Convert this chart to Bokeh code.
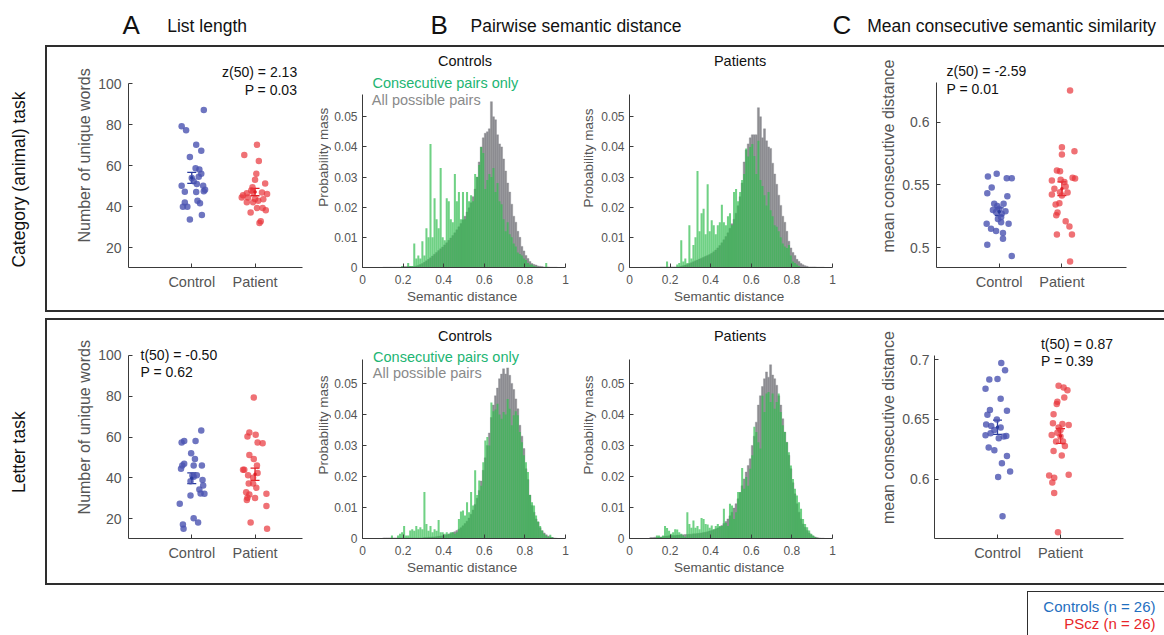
import math
from bokeh.plotting import figure
from bokeh.layouts import row, column
from bokeh.models import (Range1d, FixedTicker, Label, Whisker, ColumnDataSource,
                          TeeHead, CustomJSTickFormatter, Spacer)
from bokeh.embed import file_html
from bokeh.resources import INLINE
from bokeh.core.properties import value

FONT = "Liberation Sans"

# ---------------- data ----------------
groups = ["Control", "Patient"]
group_pos = [1, 2]

# Panel A, category task (list length)
A1_ctrl_y = [87.1, 79.2, 77.2, 70.2, 67.3, 64.2, 58.2, 56.1, 51.1, 50.3, 50.3, 47.6, 47.4,
             47.2, 48.3, 43.0, 42.1, 41.7, 40.0, 40.0, 36.0, 33.9, 58.8, 54.0, 52.5, 54.6]
A1_ctrl_x = [1.19, 0.84, 0.91, 1.07, 1.15, 0.97, 1.12, 1.15, 1.08, 0.84, 1.18, 1.19, 0.89,
             1.07, 1.21, 1.09, 0.89, 1.13, 0.86, 0.93, 1.16, 0.97, 1.06, 1.00, 1.03, 1.11]
A1_pat_y = [70.2, 65.2, 62.3, 56.1, 51.3, 53.2, 47.9, 46.6, 45.6, 47.2, 47.0, 46.3, 42.2,
            42.2, 44.6, 43.0, 43.8, 39.4, 39.4, 38.3, 37.2, 33.0, 32.2, 44.6, 49.5, 43.7]
A1_pat_x = [2.03, 1.83, 2.06, 2.02, 2.16, 2.00, 1.94, 1.87, 1.81, 1.97, 2.11, 2.19, 1.87,
            1.97, 1.89, 2.05, 2.00, 2.12, 2.03, 2.17, 1.93, 2.09, 2.07, 1.79, 1.96, 2.13]
A1_mean = [54.1, 47.2]
A1_sem = [2.7, 1.8]

# Panel A, letter task
A2_ctrl_y = [63.2, 57.3, 58.1, 58.1, 52.1, 49.2, 46.9, 46.0, 44.4, 46.1, 46.1, 41.3, 40.5,
             39.0, 38.3, 36.2, 34.3, 32.3, 32.2, 31.4, 27.3, 20.2, 17.2, 18.1, 15.1, 41.1]
A2_ctrl_x = [1.15, 0.84, 0.88, 1.06, 0.99, 1.05, 0.88, 0.85, 0.83, 1.03, 1.16, 1.08, 1.03,
             1.17, 0.98, 1.18, 1.12, 1.14, 1.20, 0.98, 0.81, 1.03, 0.86, 1.10, 0.87, 1.01]
A2_pat_y = [79.3, 62.2, 60.3, 61.1, 57.3, 57.0, 51.2, 49.2, 46.1, 44.0, 44.0, 42.4, 41.3,
            40.0, 37.2, 35.1, 33.0, 31.9, 32.2, 30.2, 30.1, 29.1, 26.2, 18.1, 15.1, 37.2]
A2_pat_x = [1.98, 1.91, 1.88, 2.01, 2.04, 2.12, 1.91, 1.98, 2.03, 1.81, 1.83, 2.04, 1.89,
            1.97, 1.90, 2.02, 1.86, 1.91, 2.18, 1.88, 2.00, 1.87, 2.18, 1.93, 2.19, 1.97]
A2_mean = [39.8, 41.8]
A2_sem = [2.6, 3.0]

# Panel C, category task
C1_ctrl_y = [0.5568, 0.5589, 0.5554, 0.5554, 0.5480, 0.5435, 0.5411, 0.5350, 0.5350, 0.5332,
             0.5284, 0.5290, 0.5244, 0.5191, 0.5204, 0.5191, 0.5151, 0.5133, 0.5117, 0.5072,
             0.5024, 0.4934, 0.5310, 0.5300, 0.5270, 0.5230]
C1_ctrl_x = [0.82, 0.96, 1.12, 1.20, 0.88, 0.81, 1.13, 0.92, 1.07, 0.97, 0.95, 1.10, 1.03,
             0.80, 1.03, 1.15, 0.87, 0.95, 1.06, 1.06, 0.81, 1.20, 1.00, 0.90, 1.04, 0.98]
C1_pat_y = [0.6252, 0.5801, 0.5769, 0.5743, 0.5615, 0.5610, 0.5536, 0.5557, 0.5541, 0.5488,
            0.5424, 0.5440, 0.5443, 0.5355, 0.5345, 0.5281, 0.5260, 0.5212, 0.5170, 0.5106,
            0.5106, 0.4891, 0.5416, 0.5552, 0.5523, 0.5470]
C1_pat_x = [2.13, 2.00, 2.20, 2.00, 1.92, 1.97, 1.84, 2.17, 1.98, 2.06, 1.84, 2.09, 1.97,
            1.96, 1.90, 1.93, 1.91, 2.06, 2.12, 1.92, 2.16, 2.13, 2.00, 2.21, 2.04, 1.88]
C1_mean = [0.5287, 0.5470]
C1_sem = [0.0030, 0.0054]

# Panel C, letter task
C2_ctrl_y = [0.6972, 0.6911, 0.6833, 0.6839, 0.6756, 0.6672, 0.6578, 0.6572, 0.6539, 0.6500,
             0.6458, 0.6444, 0.6431, 0.6367, 0.6383, 0.6342, 0.6361, 0.6264, 0.6242, 0.6194,
             0.6133, 0.6064, 0.6017, 0.5689, 0.6411, 0.6356]
C2_ctrl_x = [1.06, 1.12, 0.87, 1.00, 0.81, 1.05, 0.88, 1.15, 0.84, 0.99, 0.82, 0.90, 1.05,
             0.81, 0.89, 1.02, 1.14, 0.86, 0.95, 1.15, 1.07, 1.20, 1.01, 1.08, 0.95, 1.10]
C2_pat_y = [0.6781, 0.6767, 0.6744, 0.6683, 0.6647, 0.6628, 0.6542, 0.6467, 0.6461, 0.6453,
            0.6433, 0.6389, 0.6369, 0.6356, 0.6278, 0.6236, 0.6197, 0.6031, 0.6011, 0.6036,
            0.5972, 0.5883, 0.5556, 0.6411, 0.6314, 0.6314]
C2_pat_x = [1.97, 2.05, 2.11, 2.06, 1.95, 1.94, 1.89, 1.88, 2.03, 2.13, 1.97, 1.95, 1.86,
            2.00, 2.07, 1.89, 2.02, 1.82, 1.90, 2.13, 1.87, 1.90, 1.96, 2.00, 1.93, 2.04]
C2_mean = [0.6434, 0.6361]
C2_sem = [0.0059, 0.0061]

# Panel B histograms: probability mass (x 1e-3) per 0.01 bin, bins 0.10 .. 0.95
hist_bin_start = 0.10
hist_bin_width = 0.01

B1_ctrl_cons = [0, 0, 0, 0, 0, 0, 0, 0, 0, 0.5,
                0, 0, 1.5, 0.5, 0.5, 8, 3, 4, 3, 8.7,
                4, 13, 10, 41, 10, 23, 16, 13, 33, 10,
                9, 23, 22, 16, 15, 31, 22, 25, 16, 25,
                16, 25, 22, 24, 22, 31, 30, 34, 40, 38,
                26, 29, 31, 30, 33, 25, 28, 22, 21, 16,
                12, 15, 11, 10, 8, 7, 5, 4.5, 4, 3,
                2.5, 1.5, 1, 1, 0.5, 0.3, 0, 0, 0, 0,
                1.5, 0, 0, 0, 0, 0]
B1_ctrl_all = [0.1, 0.1, 0.1, 0.1, 0.1, 0.1, 0.1, 0.1, 0.1, 0.1,
               0.3, 0.3, 0.3, 0.3, 0.3, 0.3, 0.5, 0.7, 1.0, 1.3,
               1.7, 2.2, 2.7, 3.2, 3.8, 4.4, 5.0, 5.6, 6.2, 6.8,
               7.5, 8.2, 9.0, 9.8, 10.6, 11.5, 12.5, 13.5, 14.6, 15.8,
               17, 18.4, 19.8, 21.5, 23.5, 26, 30, 35, 40, 43,
               44.5, 45, 46, 55, 50, 49, 44, 41, 40, 36,
               32, 28, 25, 21, 17, 15, 12, 10, 7, 5.5,
               4, 3, 2, 1.3, 1.0, 0.8, 0.5, 0.4, 0.3, 0.2,
               0.2, 0.2, 0.1, 0.1, 0.1, 0.1]
B1_pat_cons = [0, 0, 0, 0, 0, 0, 0, 0, 2, 0,
               0, 0, 0, 1, 1.5, 9, 2, 3, 1.5, 14,
               3, 7.5, 10, 32, 12, 18, 19.5, 11, 27.6, 12,
               15.7, 14, 11, 14, 15, 20.8, 15, 14, 17, 18,
               14, 25, 26, 22, 25, 29, 31, 39.5, 36.8, 40,
               41, 37, 31, 42, 29, 27, 24, 20.6, 25, 19,
               17, 14, 13.5, 12, 10, 8, 7, 6.5, 7.5, 4,
               2, 1.5, 1, 0.5, 0, 0, 0, 0, 0, 0,
               0, 0, 0, 0, 0, 0]
B1_pat_all = [0.1, 0.1, 0.1, 0.1, 0.1, 0.2, 0.2, 0.2, 0.2, 0.2,
              0.2, 0.2, 0.2, 0.2, 0.2, 0.4, 0.6, 0.8, 1.0, 1.3,
              1.6, 1.9, 2.2, 2.5, 2.8, 3.1, 3.4, 3.7, 4.0, 4.3,
              4.7, 5.2, 5.8, 6.5, 7.3, 8.2, 9.2, 10.3, 11.5, 13,
              14.5, 16, 18, 20.5, 23.5, 28, 35, 39, 41, 43,
              44, 44, 44, 53, 50, 43, 46, 42, 40, 39.5,
              34.6, 31, 27.6, 24, 20.6, 17, 15, 12, 8.7, 6.5,
              5, 4, 2.7, 2, 1.3, 0.9, 0.6, 0.4, 0.2, 0.2,
              0.2, 0.2, 0.1, 0.1, 0.1, 0.1]
B2_ctrl_cons = [0, 0, 0, 0, 1, 0, 0, 1, 1.5, 2,
                4, 1, 1, 2.6, 3, 2.5, 4, 3, 3.6, 3,
                15, 4.7, 2.5, 4, 2, 3, 2.5, 6, 2, 2,
                1.5, 2, 1.5, 2, 2, 1.5, 2, 6.3, 8.7, 9,
                7.4, 11.7, 8.5, 15, 10.6, 22, 14, 18.7, 17, 24.6,
                31.6, 32.7, 30, 43.8, 41, 41.6, 43.4, 40, 38.6, 40.8,
                40, 45, 41.8, 36.5, 39.7, 41, 39.7, 34.3, 31, 26.8,
                24.6, 21.4, 14, 11.7, 10.6, 7.4, 5.5, 4, 2.6, 1.5,
                1, 0.5, 1.2, 0.5, 0, 0]
B2_ctrl_all = [0.2, 0.2, 0.2, 0.2, 0.2, 0.2, 0.2, 0.2, 0.2, 0.2,
               0.2, 0.2, 0.2, 0.2, 0.2, 0.2, 0.2, 0.2, 0.2, 0.2,
               0.3, 0.3, 0.4, 0.4, 0.5, 0.5, 0.6, 0.7, 0.8, 0.9,
               1.0, 1.2, 1.4, 1.6, 1.9, 2.2, 2.6, 3.0, 3.5, 4.1,
               4.8, 5.6, 6.6, 7.8, 9.2, 11, 13, 15.5, 18.5, 22,
               26, 30, 34, 39, 43, 46, 48.5, 51.5, 53, 54.7,
               53, 55, 52.6, 50, 48, 45, 41.8, 36.5, 33, 29,
               22.5, 19, 14, 10.6, 8.5, 6.3, 5.3, 3.5, 2.5, 1.8,
               1.2, 0.8, 0.5, 0.3, 0.2, 0.1]
B2_pat_cons = [0, 0, 0, 1, 1, 0.5, 1, 4, 3.4, 2.5,
               1.5, 2, 3, 2.9, 2, 1.5, 1, 0.5, 8.5, 4.7,
               3.5, 5.8, 3.5, 4, 3, 6.6, 6.3, 4.7, 4.5, 3.5,
               4.2, 3, 4, 4.7, 4, 4, 9.6, 5, 4, 11.2,
               10.6, 6.3, 8.5, 15, 15, 22.7, 16, 19.8, 17, 22.5,
               26.8, 36, 34.3, 31, 29, 46, 40.8, 46.7, 47.2, 44,
               46.7, 41.8, 44, 46.7, 40.8, 36.5, 34.3, 31, 27.8, 23.5,
               19.2, 16, 13.9, 11.7, 9.6, 6.3, 4.7, 3.6, 2.6, 1.5,
               1, 0.5, 0, 0, 0, 0]
B2_pat_all = [0.3, 0.3, 0.4, 0.4, 0.5, 0.5, 0.6, 0.7, 0.8, 0.9,
              1, 1, 1, 1.1, 1.1, 1.2, 1.2, 1.3, 1.3, 1.4,
              1.4, 1.5, 1.5, 1.6, 1.7, 1.8, 1.9, 2, 2.2, 2.4,
              2.6, 2.8, 3.1, 3.4, 3.8, 4.2, 4.8, 5.5, 6.3, 7.3,
              8.5, 9.8, 11.2, 12.8, 14.8, 17, 19.2, 21.4, 23.5, 25.7,
              30, 33, 37.5, 43, 46, 49, 51.5, 53.7, 52, 56,
              52.7, 51.5, 49.4, 46, 43, 38.6, 34.3, 31, 26.8, 22.5,
              18, 14.4, 11.2, 8.5, 6.3, 4.7, 3.6, 2.6, 1.8, 1.2,
              0.8, 0.5, 0.3, 0.2, 0.1, 0.1]

hist_xticks = [0, 0.2, 0.4, 0.6, 0.8, 1]
hist_yticks = [0, 0.01, 0.02, 0.03, 0.04, 0.05]

# ---------------- styles ----------------
CTRL_PT = "#4a52b0"
PAT_PT = "#e8343a"
CTRL_BAR = "#2a3c9e"
PAT_BAR = "#e01f26"
GRAY = "#8d8d92"
GREEN = "#32be50"
GREEN_ALPHA = 0.7
GREEN_TXT = "#22b573"
AX = "#3a3a3a"
TICK_TXT = "#555555"
LINE = "#2e2e2e"
INNER_H = 263

fmt = CustomJSTickFormatter(code="return tick.toString();")


def base_fig(w, l, r, t, b, fh, xr, yr):
    """t = px between top of plot area and the top of the axis; fh = axis height in px."""
    lo, hi = yr
    ext_hi = hi + t * (hi - lo) / fh
    p = figure(width=w, height=INNER_H, x_range=Range1d(*xr), y_range=Range1d(lo, ext_hi),
               output_backend="svg", toolbar_location=None,
               min_border_left=l, min_border_right=r, min_border_top=0, min_border_bottom=b)
    p.grid.visible = False
    p.outline_line_color = None
    for ax in p.axis:
        ax.axis_line_color = AX
        ax.axis_line_width = 1
        ax.major_tick_line_color = AX
        ax.major_tick_in = 4
        ax.major_tick_out = 0
        ax.minor_tick_line_color = None
        ax.major_label_text_color = TICK_TXT
        ax.major_label_text_font = FONT
        ax.axis_label_text_color = TICK_TXT
        ax.axis_label_text_font = FONT
        ax.axis_label_text_font_style = "normal"
    p.yaxis.bounds = (lo, hi)
    return p


def add_label(p, x, y, text, size, color="#111111", align="left"):
    p.add_layout(Label(x=x, y=y, text=text, text_font=FONT, text_font_size=size,
                       text_color=color, text_align=align, text_baseline="middle"))


def text_fig(w, h, items, styles=None):
    kw = dict(styles=styles) if styles else {}
    p = figure(width=w, height=h, x_range=Range1d(0, w), y_range=Range1d(0, h),
               x_axis_type=None, y_axis_type=None, output_backend="svg",
               toolbar_location=None, min_border=0, **kw)
    p.grid.visible = False
    p.outline_line_color = None
    for (x, y, txt, size, color, align, angle, base) in items:
        p.text(x=[x], y=[y], text=[txt], text_font=value(FONT), text_font_size=size,
               text_color=color, text_align=align, text_baseline=base, angle=angle)
    return p


def ylabel_fig(w, x, y, text, size):
    return text_fig(w, INNER_H, [(x, y, text, size, TICK_TXT, "center", math.pi / 2, "middle")])


def strip_fig(w, l, r, t, b, fh, xmax, yr, yticks, tick_standoff,
              cx, cy, px, py, means, sems, stats):
    p = base_fig(w, l, r, t, b, fh, (0, xmax), yr)
    p.xaxis.ticker = FixedTicker(ticks=group_pos)
    p.xaxis.major_label_overrides = {g: lab for g, lab in zip(group_pos, groups)}
    p.xaxis.major_label_text_font_size = "14.5px"
    p.xaxis.major_label_standoff = 6
    p.yaxis.ticker = FixedTicker(ticks=yticks)
    p.yaxis.formatter = fmt
    p.yaxis.major_label_text_font_size = "14px"
    p.yaxis.major_label_standoff = tick_standoff
    p.scatter(cx, cy, size=6.5, fill_color=CTRL_PT, fill_alpha=0.8, line_color=None)
    p.scatter(px, py, size=6.5, fill_color=PAT_PT, fill_alpha=0.7, line_color=None)
    for g, m, s, c in zip(group_pos, means, sems, [CTRL_BAR, PAT_BAR]):
        src = ColumnDataSource(dict(x=[g], lo=[m - s], hi=[m + s], m=[m]))
        p.add_layout(Whisker(source=src, base="x", lower="lo", upper="hi",
                             line_color=c, line_width=1.3,
                             lower_head=TeeHead(size=9, line_color=c, line_width=1.3),
                             upper_head=TeeHead(size=9, line_color=c, line_width=1.3)))
        p.scatter("x", "m", source=src, size=3.5, fill_color=c, line_color=None)
    for (sx, sy, txt, al) in stats:
        add_label(p, sx, sy, txt, "14px", "#111111", al)
    return p


def hist_fig(w, l, r, t, b, fh, ymax, all_vals, cons_vals, title, tx, ty, legend=None):
    p = base_fig(w, l, r, t, b, fh, (0, 1), (0, ymax))
    centers = [round(hist_bin_start + hist_bin_width * (i + 0.5), 3) for i in range(len(all_vals))]
    src = ColumnDataSource(dict(x=centers,
                                all=[v * 1e-3 for v in all_vals],
                                cons=[v * 1e-3 for v in cons_vals]))
    p.vbar(x="x", top="all", width=hist_bin_width, source=src,
           fill_color=GRAY, line_color=GRAY, line_width=0.4)
    p.vbar(x="x", top="cons", width=hist_bin_width, source=src,
           fill_color=GREEN, fill_alpha=GREEN_ALPHA, line_color=None)
    p.xaxis.ticker = FixedTicker(ticks=hist_xticks)
    p.yaxis.ticker = FixedTicker(ticks=hist_yticks)
    p.xaxis.formatter = fmt
    p.yaxis.formatter = fmt
    p.xaxis.major_label_text_font_size = "12px"
    p.yaxis.major_label_text_font_size = "12px"
    p.xaxis.major_label_standoff = 7
    p.yaxis.major_label_standoff = 5
    p.xaxis.axis_label = "Semantic  distance"
    p.xaxis.axis_label_text_font_size = "13.5px"
    p.xaxis.axis_label_standoff = 2
    add_label(p, tx, ty, title, "14.5px", "#111111", "center")
    if legend:
        (lx1, ly1), (lx2, ly2) = legend
        add_label(p, lx1, ly1, "Consecutive pairs only", "14.5px", GREEN_TXT)
        add_label(p, lx2, ly2, "All possible pairs", "14.5px", "#8a8a8a")
    return p


def hline(w, h=2):
    return Spacer(width=w, height=h, styles={"background-color": LINE})


def vline(h, w=2):
    return Spacer(width=w, height=h, styles={"background-color": LINE})


# ---------------- header ----------------
header = text_fig(1164, 45, [
    (122, 21, "A", "26px", "#111111", "left", 0, "middle"),
    (166.7, 20, "List length", "17.5px", "#111111", "left", 0, "middle"),
    (430, 21, "B", "26px", "#111111", "left", 0, "middle"),
    (470, 20, "Pairwise semantic distance", "17.5px", "#111111", "left", 0, "middle"),
    (832, 21, "C", "26px", "#111111", "left", 0, "middle"),
    (866.7, 20, "Mean consecutive semantic similarity", "17.5px", "#111111", "left", 0, "middle"),
])

side1 = text_fig(45, 267, [(18.3, 133, "Category (animal) task", "17.5px", "#111111",
                            "center", math.pi / 2, "middle")])
side2 = text_fig(45, 267, [(18.3, 133.3, "Letter task", "17.5px", "#111111",
                            "center", math.pi / 2, "middle")])

# ---------------- row 1 ----------------
A1_lab = ylabel_fig(48, 37, 134, "Number of unique words", "16px")
A1 = strip_fig(215, 33, 8, 36, 43, 184, 2.75, (10.5, 100), [20, 40, 60, 80, 100], 7,
               A1_ctrl_x, A1_ctrl_y, A1_pat_x, A1_pat_y, A1_mean, A1_sem,
               [(2.666, 105.7, "z(50) = 2.13", "right"), (2.666, 96.9, "P = 0.03", "right")])
B1c_lab = ylabel_fig(21, 13.3, 131.7, "Probability mass", "13.5px")
B1c = hist_fig(247, 31, 13, 48, 38, 177, 0.0574, B1_ctrl_all, B1_ctrl_cons, "Controls", 0.505, 0.0685,
               legend=((0.049, 0.0612), (0.046, 0.0554)))
B1p_lab = ylabel_fig(20, 10.3, 131, "Probability mass", "13.5px")
B1p = hist_fig(279, 31, 45, 48, 38, 177, 0.0574, B1_pat_all, B1_pat_cons, "Patients", 0.545, 0.0685)
C1_lab = ylabel_fig(22, 11.3, 133.3, "mean consecutive distance", "16px")
C1 = strip_fig(265, 37, 38, 35, 43, 185, 3.03, (0.4843, 0.6316), [0.5, 0.55, 0.6], 7,
               C1_ctrl_x, C1_ctrl_y, C1_pat_x, C1_pat_y, C1_mean, C1_sem,
               [(0.16, 0.6404, "z(50) = -2.59", "left"), (0.16, 0.6266, "P = 0.01", "left")])

# ---------------- row 2 ----------------
A2_lab = ylabel_fig(48, 37, 134.2, "Number of unique words", "16px")
A2 = strip_fig(215, 33, 8, 35, 44, 184, 2.75, (10.3, 100), [20, 40, 60, 80, 100], 7,
               A2_ctrl_x, A2_ctrl_y, A2_pat_x, A2_pat_y, A2_mean, A2_sem,
               [(0.19, 100.0, "t(50) = -0.50", "left"), (0.19, 91.6, "P = 0.62", "left")])
B2c_lab = ylabel_fig(21, 13.3, 136.8, "Probability mass", "13.5px")
B2c = hist_fig(247, 31, 13, 39, 45, 179, 0.0577, B2_ctrl_all, B2_ctrl_cons, "Controls", 0.505, 0.0653,
               legend=((0.052, 0.0586), (0.051, 0.0532)))
B2p_lab = ylabel_fig(20, 10.3, 136.8, "Probability mass", "13.5px")
B2p = hist_fig(279, 31, 45, 39, 45, 179, 0.0577, B2_pat_all, B2_pat_cons, "Patients", 0.545, 0.0653)
C2_lab = ylabel_fig(22, 11.3, 133.8, "mean consecutive distance", "16px")
C2 = strip_fig(265, 34, 41, 35, 44, 184, 3.0, (0.5503, 0.7036), [0.6, 0.65, 0.7], 5,
               C2_ctrl_x, C2_ctrl_y, C2_pat_x, C2_pat_y, C2_mean, C2_sem,
               [(1.69, 0.7133, "t(50) = 0.87", "left"), (1.69, 0.6986, "P = 0.39", "left")])

INNER_W = 1117
box1 = column(hline(INNER_W + 2),
              row(vline(INNER_H), A1_lab, A1, B1c_lab, B1c, B1p_lab, B1p, C1_lab, C1),
              hline(INNER_W + 2))
box2 = column(hline(INNER_W + 2),
              row(vline(INNER_H), A2_lab, A2, B2c_lab, B2c, B2p_lab, B2p, C2_lab, C2),
              hline(INNER_W + 2))

legend = text_fig(136, 43, [
    (127, 29, "Controls (n = 26)", "15px", "#1f6fc0", "right", 0, "middle"),
    (127, 12.3, "PScz (n = 26)", "15px", "#e8262a", "right", 0, "middle"),
])
legend_box = column(hline(137, 1), row(vline(43, 1), legend))

layout = column(
    header,
    row(side1, box1),
    Spacer(width=10, height=6),
    row(side2, box2),
    Spacer(width=10, height=6),
    row(Spacer(width=1027, height=44), legend_box),
)

open("out.html", "w").write(file_html(layout, INLINE))
